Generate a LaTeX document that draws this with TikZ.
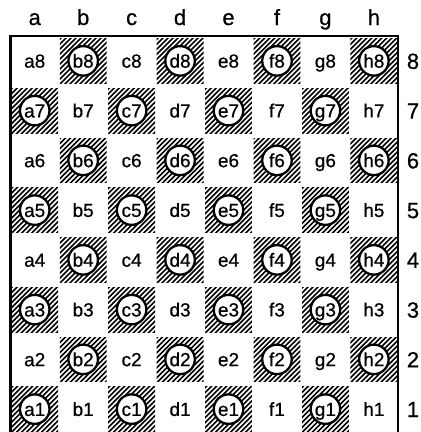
\documentclass[tikz,border=0pt]{standalone}
\usepackage{fontspec}
\setmainfont{Liberation Sans}
\newfontfamily\heavyfont[FakeBold=0.6]{Liberation Sans}
\begin{document}
\begin{tikzpicture}[x=1pt,y=-1pt,
  sqlabel/.style={inner sep=0pt, text height=13.6pt, text depth=0pt,
    font=\heavyfont\fontsize{19}{19}\selectfont},
  sqcircle/.style={sqlabel, circle, draw, line width=2.3pt, fill=white,
    minimum size=29.5pt},
  edgelabel/.style={inner sep=0pt, anchor=base, font=\heavyfont\fontsize{22}{22}\selectfont},
  hatchline/.style={line width=1.6pt},
  frame/.style={line width=2.2pt}]
\useasboundingbox (0,0) rectangle (421,432);
\def\X{10.5}\def\W{48.45}\def\Y{36}\def\H{49.75}
% frame
\coordinate (fbl) at (\X,432);
\coordinate (ftl) at (\X,\Y);
\coordinate (ftr) at (398,\Y);
\coordinate (fbr) at (398,432);
\draw[frame] (fbl) -- (ftl) -- (ftr) -- (fbr);
% file letters
\foreach \f [count=\i from 0] in {a,b,c,d,e,f,g,h}{
  \pgfmathsetmacro\cx{\X+\W*(\i+0.5)}
  \node[edgelabel] (file-\f) at (\cx,25) {\f};
}
% rank digits
\foreach \r in {1,...,8}{
  \pgfmathsetmacro\cy{\Y+\H*(8-\r+0.5)}
  \node[edgelabel] (rank-\r) at (413,{\cy+8}) {\r};
}
% squares
\foreach \f [count=\i from 0] in {a,b,c,d,e,f,g,h}{
  \foreach \r in {1,...,8}{
    \pgfmathsetmacro\cx{\X+\W*(\i+0.5)}
    \pgfmathsetmacro\cy{\Y+\H*(8-\r+0.5)}
    \pgfmathtruncatemacro\dark{mod(\i+1+\r,2)==0 ? 1 : 0}
    \ifnum\dark=1
      \begin{scope}
        \clip ({\cx-\W/2+0.8},{\cy-\H/2+2.5}) rectangle ({\cx+\W/2-0.8},{\cy+\H/2-2.5});
        \foreach \k in {-55,-50,...,55}{
          \draw[hatchline] ({\cx+(\k)-30},{\cy+30}) -- ({\cx+(\k)+30},{\cy-30});
        }
      \end{scope}
      \node[sqcircle] (sq-\f\r) at (\cx,\cy) {\f\r};
    \else
      \node[sqlabel] (sq-\f\r) at (\cx,\cy) {\f\r};
    \fi
  }
}
\end{tikzpicture}
\end{document}
